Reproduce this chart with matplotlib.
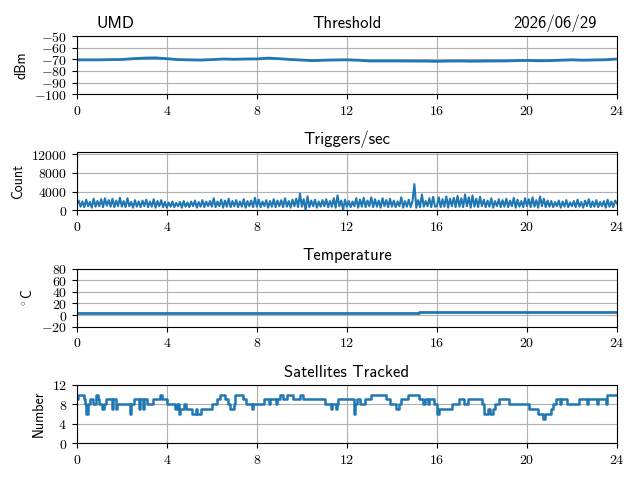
import matplotlib
matplotlib.use("Agg")
import matplotlib.pyplot as plt
from matplotlib.ticker import FuncFormatter

plt.rcParams['font.family'] = ['cmss10', 'DejaVu Sans']
plt.rcParams['mathtext.fontset'] = 'cm'
plt.rcParams['axes.unicode_minus'] = False

station = "UMD"
date_label = "2026/06/29"

# threshold, every half hour
thr_hours = [i * 0.5 for i in range(49)]
thr_dbm = [-70.5, -70.5, -70.5, -70.3, -70.2, -69.5, -69.0, -68.8, -69.5, -70.3,
           -70.5, -70.7, -70.3, -69.8, -70.0, -69.8, -69.7, -69.0, -69.5, -70.2,
           -70.7, -71.2, -70.8, -70.6, -70.5, -70.8, -71.5, -71.5, -71.5, -71.5,
           -71.6, -71.6, -71.8, -71.6, -71.5, -71.7, -71.6, -71.5, -71.5, -71.2,
           -71.0, -71.3, -71.2, -70.8, -70.5, -70.8, -70.6, -70.4, -69.8]

# triggers per second, every 5 minutes
trig_counts = [
    1200, 2100, 800, 1900, 700, 2300, 900, 1800, 600, 2500, 800, 2000,
    900, 2400, 700, 2600, 1000, 2200, 800, 2500, 700, 2100, 900, 2700,
    800, 2000, 700, 2600, 900, 1800, 600, 2200, 800, 1900, 700, 2100,
    900, 2300, 700, 1900, 800, 2400, 600, 2000, 900, 2200, 700, 1800,
    600, 1700, 800, 1900, 700, 1600, 900, 1800, 600, 2000, 800, 1700,
    700, 1900, 900, 2100, 600, 1800, 800, 2200, 700, 1900, 900, 2000,
    800, 2600, 700, 1900, 900, 2300, 600, 2100, 800, 2500, 700, 2000,
    900, 2200, 700, 1900, 800, 2400, 600, 2000, 900, 2100, 700, 2700,
    800, 2300, 700, 1900, 900, 2200, 600, 2000, 800, 2400, 700, 2100,
    900, 2200, 700, 2600, 800, 2000, 600, 2300, 900, 2500, 700, 3600,
    800, 2400, 100, 3000, 700, 2100, 900, 2300, 600, 1900, 800, 2200,
    900, 2400, 700, 2000, 800, 2600, 600, 3200, 900, 2100, 200, 2300,
    800, 2000, 700, 1900, 900, 2600, 600, 2300, 800, 2700, 700, 2100,
    900, 2800, 700, 2400, 800, 2100, 600, 2600, 900, 2200, 700, 2500,
    800, 2100, 700, 1900, 900, 2800, 600, 2000, 800, 2300, 700, 2000,
    5600, 600, 2200, 700, 3400, 800, 2000, 900, 2600, 700, 2900, 800,
    900, 2800, 700, 2400, 800, 3000, 600, 2500, 900, 2700, 700, 3100,
    800, 2600, 700, 3400, 900, 2800, 600, 3200, 800, 2500, 700, 2900,
    900, 2300, 700, 2100, 800, 2600, 600, 2000, 900, 2400, 700, 2200,
    800, 2500, 700, 2100, 900, 2700, 600, 2300, 800, 2000, 700, 2600,
    900, 2400, 700, 2800, 800, 2200, 600, 3000, 900, 2500, 700, 2100,
    800, 2000, 700, 1800, 900, 2100, 600, 1900, 800, 2200, 700, 1700,
    900, 2000, 700, 2300, 800, 1800, 600, 2100, 900, 2400, 700, 1900,
    800, 2200, 700, 1800, 900, 2000, 600, 2300, 800, 1900, 700, 2100,
    1500]
trig_hours = [i / 12 for i in range(len(trig_counts))]

# temperature steps
temp_hours = [0, 15.2, 24]
temp_c = [4.0, 5.5, 5.5]

# satellites tracked, step changes
sat_hours = [0, 0.05, 0.3, 0.35, 0.42, 0.48, 0.6, 0.7, 0.85, 0.92,
             1.0, 1.1, 1.2, 1.3, 1.55, 1.6, 1.75, 1.8, 2.35, 2.42,
             2.55, 2.75, 2.8, 2.95, 3.0, 3.1, 3.4, 3.7, 3.78, 4.0,
             4.35, 4.45, 4.55, 4.6, 4.75, 4.85, 5.1, 5.3, 5.35, 5.5,
             6.0, 6.25, 6.35, 6.6, 6.7, 6.8, 7.0, 7.05, 7.4, 7.5,
             7.8, 7.85, 8.3, 8.55, 8.6, 8.85, 8.9, 9.05, 9.15, 9.35,
             9.6, 9.9, 10.05, 11.05, 11.3, 11.35, 11.5, 11.55, 11.6, 12.3,
             12.35, 12.45, 12.6, 12.8, 13.05, 13.75, 13.9, 14.2, 14.3, 14.4,
             14.7, 15.2, 15.4, 15.45, 15.6, 15.65, 15.85, 16.0, 16.08, 16.65,
             17.0, 17.2, 17.4, 18.0, 18.1, 18.25, 18.35, 18.5, 18.6, 18.75,
             19.2, 20.1, 20.5, 20.7, 20.8, 21.05, 21.15, 21.3, 21.45, 21.5,
             21.8, 22.3, 22.65, 22.7, 23.1, 23.15, 23.5, 23.55, 24.0]
sat_counts = [9, 10, 9, 8, 6, 8, 9, 8, 10, 9,
              8, 7, 8, 9, 7, 9, 7, 8, 6, 8,
              9, 7, 9, 7, 9, 8, 9, 10, 9, 8,
              7, 8, 6, 7, 8, 7, 6, 7, 6, 7,
              8, 9, 10, 9, 8, 7, 8, 10, 9, 8,
              7, 8, 9, 8, 9, 8, 9, 10, 9, 10,
              9, 10, 9, 8, 7, 8, 7, 8, 9, 6,
              8, 9, 8, 9, 10, 9, 8, 7, 8, 9,
              10, 9, 8, 9, 8, 9, 8, 6, 7, 8,
              9, 8, 9, 8, 6, 7, 6, 7, 8, 9,
              8, 7, 6, 5, 6, 7, 8, 9, 8, 9,
              8, 9, 8, 9, 8, 9, 8, 10, 10]


def math_fmt(v, pos):
    return "$%g$" % v


fig, axes = plt.subplots(4, 1, figsize=(6.4, 4.8), dpi=100)
fig.subplots_adjust(left=0.12, right=0.964, top=0.925, bottom=0.077, hspace=1.0)

ax = axes[0]
ax.plot(thr_hours, thr_dbm, lw=2.0)
ax.set_ylim(-100, -50)
ax.set_yticks(range(-100, -49, 10))
ax.set_ylabel("dBm")
ax.set_title("Threshold")
ax.text(0.037, 1.14, station, transform=ax.transAxes, fontsize=12, ha='left', va='baseline')
ax.text(0.963, 1.14, date_label, transform=ax.transAxes, fontsize=12, ha='right', va='baseline')

ax = axes[1]
ax.plot(trig_hours, trig_counts, lw=1.5)
ax.set_ylim(0, 12400)
ax.set_yticks([0, 4000, 8000, 12000])
ax.set_ylabel("Count")
ax.set_title("Triggers/sec")

ax = axes[2]
ax.plot(temp_hours, temp_c, drawstyle='steps-post', lw=2.0)
ax.set_ylim(-20, 80)
ax.set_yticks(range(-20, 81, 20))
ax.set_ylabel(r"$^\circ$C")
ax.set_title("Temperature")

ax = axes[3]
ax.plot(sat_hours, sat_counts, drawstyle='steps-post', lw=1.8)
ax.set_ylim(0, 12)
ax.set_yticks([0, 4, 8, 12])
ax.set_ylabel("Number")
ax.set_title("Satellites Tracked")

for ax in axes:
    ax.set_xlim(0, 24)
    ax.set_xticks(range(0, 25, 4))
    ax.xaxis.set_major_formatter(FuncFormatter(math_fmt))
    ax.yaxis.set_major_formatter(FuncFormatter(math_fmt))
    ax.grid(True)

fig.savefig("out.png")
